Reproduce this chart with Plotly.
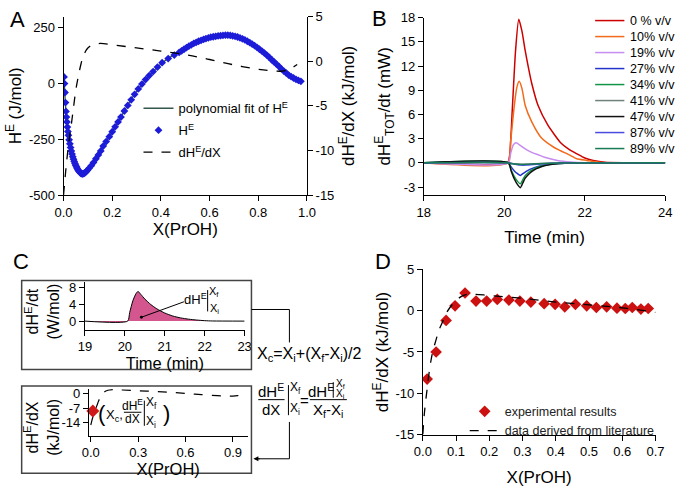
import plotly.graph_objects as go

W, H = 684, 492
FONT = "Arial, Liberation Sans, Helvetica, sans-serif"

# ---------------- Panel A data ----------------
hE_x = [0.002, 0.004, 0.006, 0.008, 0.010, 0.012, 0.014, 0.016, 0.018, 0.020,
        0.023, 0.026, 0.029, 0.032, 0.035, 0.038, 0.041, 0.044, 0.047, 0.050,
        0.053, 0.056, 0.059, 0.062, 0.065, 0.068, 0.071, 0.074, 0.077, 0.080,
        0.084, 0.088, 0.093, 0.098,
        0.105, 0.114, 0.123, 0.133, 0.143, 0.153, 0.163, 0.175, 0.188, 0.200,
        0.212, 0.224, 0.236, 0.250, 0.264, 0.278, 0.292, 0.307, 0.322, 0.337,
        0.352, 0.368, 0.386, 0.405, 0.430, 0.455,
        0.475, 0.485, 0.495, 0.505, 0.515, 0.525, 0.535, 0.545, 0.555, 0.565,
        0.575, 0.585, 0.595, 0.605, 0.615, 0.625, 0.635, 0.645, 0.655, 0.665,
        0.675, 0.685, 0.695, 0.705, 0.715, 0.725, 0.735, 0.745, 0.755, 0.765,
        0.775, 0.785, 0.795, 0.805, 0.815, 0.825, 0.835, 0.845, 0.855, 0.865,
        0.875, 0.885, 0.895, 0.905, 0.915, 0.925, 0.935, 0.945, 0.955, 0.965,
        0.975]
hE_y = [30, 0, -40, -85, -125, -150, -172, -195, -215, -232,
        -252, -270, -287, -302, -316, -328, -339, -349, -358, -366,
        -373, -380, -386, -391, -395, -399, -402, -404, -405, -405,
        -403, -400, -395, -389,
        -380, -368, -354, -337, -320, -302, -280, -260, -238, -216,
        -194, -172, -150, -123, -98, -73, -48, -24, -2, 18,
        36, 54, 74, 94, 112, 128,
        140, 147, 154, 161, 168, 174, 180, 185, 190, 194,
        198, 202, 205, 208, 210, 212, 214, 215, 216, 217,
        217, 216, 214, 212, 209, 205, 201, 196, 190, 184,
        177, 170, 162, 154, 146, 137, 128, 118, 107, 97,
        87, 77, 66, 56, 47, 38, 31, 25, 19, 14,
        10]

fit_x = [0.002, 0.01, 0.02, 0.04, 0.06, 0.08, 0.10, 0.15, 0.20, 0.30,
         0.40, 0.50, 0.60, 0.68, 0.75, 0.80, 0.85, 0.90, 0.95, 0.975]
fit_y = [30, -125, -232, -333, -388, -405, -386, -300, -216, -35,
         88, 158, 206, 217, 193, 158, 112, 61, 22, 10]

dhdx_x = [0.0, 0.005, 0.01, 0.02, 0.03, 0.04, 0.05, 0.06, 0.07, 0.08,
          0.09, 0.10, 0.12, 0.15, 0.20, 0.30, 0.40, 0.50, 0.60, 0.70,
          0.80, 0.85, 0.90, 0.93, 0.96]
dhdx_y = [-15, -13.5, -12.0, -9.5, -7.5, -5.4, -3.3, -1.8, -0.5, 0.5,
          1.1, 1.5, 1.85, 2.0, 1.85, 1.5, 1.15, 0.75, 0.2, -0.4,
          -0.9, -1.05, -1.1, -0.85, -0.35]

a_xticks = [0, 0.2, 0.4, 0.6, 0.8, 1.0]
a_xticktext = ["0.0", "0.2", "0.4", "0.6", "0.8", "1.0"]
a_yticks = [-500, -250, 0, 250]
a_yticktext = ["-500", "-250", "0", "250"]
a_y2ticks = [-15, -10, -5, 0, 5]
a_y2ticktext = ["-15", "-10", "-5", "0", "5"]

# ---------------- Panel B data ----------------
b_labels = ["0 % v/v", "10% v/v", "19% v/v", "27% v/v", "34% v/v",
            "41% v/v", "47% v/v", "87% v/v", "89% v/v"]
b_t_0 = [18, 20.08, 20.13, 20.2, 20.28, 20.36, 20.44, 20.52, 20.6, 20.68,
         20.84, 21.08, 21.4, 21.6, 21.81, 22.0, 22.21, 22.5, 24]
b_v_0 = [0, 0, 0.8, 6.7, 13.9, 17.8, 16.3, 13.9, 11.8, 9.9,
         7.1, 4.7, 2.5, 1.7, 1.1, 0.6, 0.3, 0.08, 0]
b_t_10 = [18, 20.08, 20.16, 20.24, 20.31, 20.37, 20.44, 20.52, 20.68, 20.92,
          21.24, 21.4, 21.65, 21.8, 22.05, 22.4, 24]
b_v_10 = [0, 0, 2.8, 6.7, 9.3, 10.1, 9.2, 7.1, 5.1, 3.1,
          1.9, 1.5, 0.9, 0.5, 0.3, 0.05, 0]
b_t_19 = [18, 20.1, 20.16, 20.22, 20.29, 20.36, 20.44, 20.56, 20.68, 20.84,
          21.0, 21.32, 21.65, 22.0, 24]
b_v_19 = [0, 0, 1.2, 2.2, 2.5, 2.3, 2.0, 1.6, 1.3, 1.0,
          0.7, 0.3, 0.1, 0.02, 0]
b_t_neg = [18, 20.1, 20.17, 20.25, 20.33, 20.4, 20.46, 20.52, 20.6, 20.68,
           20.8, 20.92, 21.08, 21.24, 21.5, 22.0, 24]
b_v_27 = [0, 0, -0.5, -1.0, -1.35, -1.56, -1.35, -1.15, -0.9, -0.72,
          -0.5, -0.35, -0.22, -0.13, -0.05, 0, 0]
b_v_34 = [0, 0, -0.85, -1.7, -2.3, -2.6, -2.1, -1.6, -1.2, -0.9,
          -0.6, -0.4, -0.24, -0.13, -0.05, 0, 0]
b_t_41 = [18, 20.1, 20.25, 20.4, 20.6, 20.9, 21.3, 24]
b_v_41 = [0, 0, -0.12, -0.18, -0.14, -0.07, -0.02, 0]
b_v_47 = [0, 0, -1.0, -2.0, -2.7, -3.08, -2.5, -1.9, -1.45, -1.08,
          -0.72, -0.48, -0.28, -0.16, -0.06, 0, 0]
b_t_87 = [18, 20.1, 20.2, 20.3, 20.4, 20.47, 20.55, 20.65, 20.8, 21.0,
          21.3, 21.6, 22.0, 24]
b_v_87 = [0, 0, -0.1, -0.2, -0.28, -0.3, -0.28, -0.24, -0.17, -0.1,
          -0.04, -0.01, 0, 0]
b_t_89 = [18, 20.05, 20.2, 20.35, 20.5, 20.7, 21.0, 21.4, 24]
b_v_89 = [0, 0, -0.1, -0.18, -0.2, -0.14, -0.07, -0.02, 0]

b_colors = ["#cc0000", "#f26a1b", "#c68cf0", "#2233cc", "#129447",
            "#6f827a", "#111111", "#4a4ae0", "#1a7a55"]
b_series = [(b_t_0, b_v_0), (b_t_10, b_v_10), (b_t_19, b_v_19),
            (b_t_neg, b_v_27), (b_t_neg, b_v_34), (b_t_41, b_v_41),
            (b_t_neg, b_v_47), (b_t_87, b_v_87), (b_t_89, b_v_89)]
b_xticks = [18, 20, 22, 24]
b_yticks = [-3, 0, 3, 6, 9, 12, 15, 18]
b_yticktext = ["-3", "0", "3", "6", "9", "12", "15", "18"]

# ---------------- Panel C data ----------------
c_t = [19, 20.07, 20.12, 20.2, 20.28, 20.33, 20.4, 20.5, 20.65, 20.8,
       21.0, 21.2, 21.4, 21.6, 21.8, 22.0, 22.2, 23]
c_v = [0, 0, 2.0, 4.8, 6.5, 7.0, 6.3, 5.2, 3.9, 2.9,
       1.9, 1.2, 0.75, 0.45, 0.25, 0.1, 0.03, 0]
c_xticks = [19, 20, 21, 22, 23]
c_yticks = [0, 4, 8]
c2_point_x = [0.013]
c2_point_y = [-8.3]
c2_xticks = [0.0, 0.3, 0.6, 0.9]
c2_xticktext = ["0.0", "0.3", "0.6", "0.9"]
c2_yticks = [-14, -7, 0]
c2_yticktext = ["-14", "-7", "0"]

# ---------------- Panel D data ----------------
d_exp_x = [0.013, 0.040, 0.070, 0.097, 0.127, 0.160, 0.192, 0.224, 0.259, 0.292,
           0.325, 0.365, 0.398, 0.427, 0.459, 0.493, 0.522, 0.553, 0.584, 0.609,
           0.630, 0.656, 0.678]
d_exp_y = [-8.28, -5.0, -1.17, 0.59, 2.15, 1.17, 1.17, 1.37, 1.29, 1.17,
           1.05, 0.86, 0.78, 0.47, 0.78, 0.59, 0.39, 0.47, 0.31, 0.27,
           0.39, 0.20, 0.27]
d_lit_x = [0.0, 0.005, 0.012, 0.02, 0.029, 0.04, 0.049, 0.06, 0.069, 0.08,
           0.098, 0.115, 0.13, 0.15, 0.2, 0.3, 0.4, 0.5, 0.6, 0.7]
d_lit_y = [-15, -12.3, -9.8, -7.2, -5.1, -3.5, -2.3, -1.3, -0.4, 0.3,
           1.17, 1.7, 1.95, 2.0, 1.85, 1.5, 1.05, 0.7, 0.35, -0.2]
d_xticks = [0, 0.1, 0.2, 0.3, 0.4, 0.5, 0.6, 0.7]
d_xticktext = ["0.0", "0.1", "0.2", "0.3", "0.4", "0.5", "0.6", "0.7"]
d_yticks = [-15, -10, -5, 0, 5]
d_yticktext = ["-15", "-10", "-5", "0", "5"]


def px(x):
    return x / W


def py(y):
    return 1 - y / H


fig = go.Figure()

# ---- A ----
fig.add_trace(go.Scatter(x=fit_x, y=fit_y, mode="lines",
                         line=dict(color="#35574a", width=1.3, shape="spline"),
                         name="polynomial fit of H<sup>E</sup>", xaxis="x", yaxis="y",
                         legend="legend", legendgroup="a1", legendrank=1))
fig.add_trace(go.Scatter(x=hE_x, y=hE_y, mode="markers",
                         marker=dict(symbol="diamond", size=6, color="#1c1cd8"),
                         name="H<sup>E</sup>", xaxis="x", yaxis="y",
                         legend="legend", legendgroup="a2", legendrank=2))
fig.add_trace(go.Scatter(x=dhdx_x, y=dhdx_y, mode="lines",
                         line=dict(color="black", width=1.3, dash="dash", shape="spline"),
                         name="dH<sup>E</sup>/dX", xaxis="x", yaxis="y2",
                         legend="legend", legendgroup="a3", legendrank=3))

# ---- B ----
for (t, v), lab, col in zip(b_series, b_labels, b_colors):
    fig.add_trace(go.Scatter(x=t, y=v, mode="lines", name=lab,
                             line=dict(color=col, width=1.5, shape="spline", smoothing=0.6),
                             xaxis="x2", yaxis="y3", showlegend=False))

# ---- C top ----
fig.add_trace(go.Scatter(x=c_t, y=c_v, mode="lines", fill="tozeroy",
                         fillcolor="#d4568f", line=dict(color="black", width=1, shape="spline", smoothing=0.6),
                         xaxis="x3", yaxis="y4", showlegend=False))
# ---- C bottom ----
fig.add_trace(go.Scatter(x=dhdx_x, y=dhdx_y, mode="lines",
                         line=dict(color="black", width=1.2, dash="dash", shape="spline"),
                         xaxis="x4", yaxis="y5", showlegend=False))
fig.add_trace(go.Scatter(x=c2_point_x, y=c2_point_y, mode="markers",
                         marker=dict(symbol="diamond", size=10, color="#d01818"),
                         xaxis="x4", yaxis="y5", showlegend=False, cliponaxis=False))

# ---- D ----
fig.add_trace(go.Scatter(x=d_exp_x, y=d_exp_y, mode="markers",
                         marker=dict(symbol="diamond", size=9, color="#cc1111"),
                         name="experimental results", xaxis="x5", yaxis="y6",
                         legend="legend2"))
fig.add_trace(go.Scatter(x=d_lit_x, y=d_lit_y, mode="lines",
                         line=dict(color="black", width=1.3, dash="dash", shape="spline"),
                         name="data derived from literature", xaxis="x5", yaxis="y6",
                         legend="legend2"))

tickfont = dict(size=13, family=FONT, color="black")


def ax(**kw):
    base = dict(showline=True, linecolor="black", linewidth=1, ticks="outside",
                ticklen=5, tickwidth=1, tickcolor="black", showgrid=False,
                zeroline=False, tickfont=tickfont, fixedrange=True)
    base.update(kw)
    return base


def ttl(text, size=17, standoff=5):
    return dict(text=text, font=dict(size=size, family=FONT, color="black"), standoff=standoff)


fig.update_layout(
    width=W, height=H, margin=dict(l=0, r=0, t=0, b=0),
    paper_bgcolor="white", plot_bgcolor="white",
    font=dict(family=FONT, color="black"),
    # A
    xaxis=ax(domain=[px(56), px(306)], range=[0, 1], anchor="y",
             tickvals=a_xticks, ticktext=a_xticktext, title=ttl("X(PrOH)", 17, 4)),
    yaxis=ax(domain=[py(194), py(10)], range=[-500, 300], anchor="x",
             tickvals=a_yticks, ticktext=a_yticktext, title=ttl("H<sup>E</sup> (J/mol)", 17, 2)),
    yaxis2=ax(overlaying="y", side="right", anchor="x", range=[-15, 5],
              tickvals=a_y2ticks, ticktext=a_y2ticktext,
              title=ttl("dH<sup>E</sup>/dX (kJ/mol)", 17, 8)),
    # B
    xaxis2=ax(domain=[px(426), px(674)], range=[18, 24], anchor="y3",
              tickvals=b_xticks, title=ttl("Time (min)", 17, 12)),
    yaxis3=ax(domain=[py(194), py(11)], range=[-4, 18], anchor="x2",
              tickvals=b_yticks, ticktext=b_yticktext,
              title=ttl("dH<sup>E</sup><sub>TOT</sub>/dt (mW)", 17, 5)),
    # C top
    xaxis3=ax(domain=[px(78), px(242)], range=[19, 23], anchor="y4",
              tickvals=c_xticks, title=ttl("Time (min)", 16.5, 1)),
    yaxis4=ax(domain=[py(333), py(284)], range=[-2.06, 9.14], anchor="x3",
              tickvals=c_yticks),
    # C bottom
    xaxis4=ax(domain=[px(82), px(245)], range=[-0.0123, 0.9925], anchor="y5",
              tickvals=c2_xticks, ticktext=c2_xticktext, title=ttl("X(PrOH)", 16.5, 1)),
    yaxis5=ax(domain=[py(442), py(394)], range=[-20.07, 2.33], anchor="x4",
              tickvals=c2_yticks, ticktext=c2_yticktext),
    # D
    xaxis5=ax(domain=[px(425), px(664)], range=[0, 0.7], anchor="y6",
              tickvals=d_xticks, ticktext=d_xticktext, title=ttl("X(PrOH)", 17, 12)),
    yaxis6=ax(domain=[py(441), py(270.7)], range=[-15, 5], anchor="x5",
              tickvals=d_yticks, ticktext=d_yticktext,
              title=ttl("dH<sup>E</sup>/dX (kJ/mol)", 17, 2)),
    legend=dict(x=px(133), y=py(89), xanchor="left", yanchor="top",
                bgcolor="rgba(0,0,0,0)", font=dict(size=13, family=FONT, color="black"),
                traceorder="grouped", tracegroupgap=2),
    legend2=dict(x=px(468), y=py(402), xanchor="left", yanchor="top",
                 bgcolor="rgba(0,0,0,0)", font=dict(size=12.5, family=FONT, color="#222")),
)

shapes = []
annotations = []


def line(x0, y0, x1, y1, color="black", width=1, dash=None):
    d = dict(type="line", xref="paper", yref="paper", x0=px(x0), y0=py(y0),
             x1=px(x1), y1=py(y1), line=dict(color=color, width=width))
    if dash:
        d["line"]["dash"] = dash
    shapes.append(d)


def text(x, y, s, size=13, xanchor="center", color="black", angle=0):
    annotations.append(dict(x=px(x), y=py(y), xref="paper", yref="paper", text=s,
                            showarrow=False, xanchor=xanchor, yanchor="middle",
                            textangle=angle,
                            font=dict(size=size, family=FONT, color=color)))


# panel letters
text(9, 13, "A", 22)
text(381, 12, "B", 22)
text(12, 262, "C", 22)
text(384, 262, "D", 22)

# C y-axis titles (two lines, rotated)
text(34, 314, "dH<sup>E</sup>/dt<br>(W/mol)", 16, angle=-90)
text(34, 434, "dH<sup>E</sup>/dX<br>(kJ/mol)", 16, angle=-90)

# legend B (manual)
for i, (lab, col) in enumerate(zip(b_labels, b_colors)):
    yy = 14 + i * 16.5
    line(602, yy, 632, yy, col, 1.5)
    text(636, yy, lab, 12.5, "left")

# C boxes
shapes.append(dict(type="rect", xref="paper", yref="paper", x0=px(13), y0=py(282),
                   x1=px(249), y1=py(374), line=dict(color="#444", width=1.5)))
shapes.append(dict(type="rect", xref="paper", yref="paper", x0=px(13), y0=py(391),
                   x1=px(249), y1=py(481), line=dict(color="#444", width=1.5)))
# connectors
line(249, 312, 288, 312)
line(288, 312, 288, 346)
line(288, 428, 288, 466)
line(288, 466, 256, 466)
annotations.append(dict(x=px(251), y=py(466), xref="paper", yref="paper", text="",
                        showarrow=True, ax=8, ay=0, arrowhead=2, arrowsize=1,
                        arrowwidth=1, arrowcolor="black"))

# C top annotation
annotations.append(dict(x=px(136), y=py(320), xref="paper", yref="paper", text="",
                        showarrow=True, ax=44, ay=-16, arrowhead=0, arrowwidth=1,
                        arrowcolor="black"))
shapes.append(dict(type="circle", xref="paper", yref="paper", x0=px(134.5), y0=py(318.5),
                   x1=px(137.5), y1=py(321.5), fillcolor="black", line=dict(width=0)))
text(192, 301, "dH<sup>E</sup>", 13)
line(204, 292, 204, 314)
text(211, 294, "X<sub>f</sub>", 11)
text(211, 311, "X<sub>i</sub>", 11)

# C bottom annotation
text(96, 419, "(", 22)
text(108, 421, "X<sub>c</sub>,", 13)
text(127, 411, "dH<sup>E</sup>", 12)
line(118, 418, 136, 418)
text(127, 425, "dX", 12)
line(139, 406, 139, 432)
text(146, 408, "X<sub>f</sub>", 12)
text(146, 428, "X<sub>i</sub>", 12)
text(162, 419, ")", 22)

# right-hand formulas
text(309, 358, "X<sub>c</sub>=X<sub>i</sub>+(X<sub>f</sub>-X<sub>i</sub>)/2", 16)
text(269, 396, "dH<sup>E</sup>", 15)
line(256, 405, 283, 405)
text(269, 415, "dX", 15)
line(287, 390, 287, 421)
text(294, 393, "X<sub>f</sub>", 12)
text(294, 415, "X<sub>i</sub>", 12)
text(303, 406, "=", 15)
text(320, 396, "dH<sup>E</sup>", 15)
line(333, 387, 333, 403)
text(340, 389, "X<sub>f</sub>", 10)
text(340, 399, "X<sub>i</sub>", 10)
line(309, 405, 347, 405)
text(328, 416, "X<sub>f</sub>-X<sub>i</sub>", 15)

fig.update_layout(shapes=shapes, annotations=annotations)

fig.write_html("out.html", config={"displayModeBar": False, "staticPlot": True},
               post_script="document.body.style.margin='0px';")
